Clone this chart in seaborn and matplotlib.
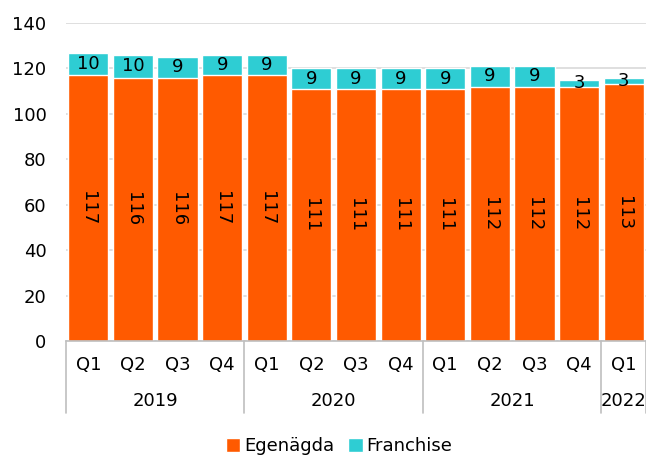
"""Stacked bar chart: Egenägda vs Franchise per quarter."""

import matplotlib

matplotlib.use("Agg")

import matplotlib.pyplot as plt
import pandas as pd
import seaborn as sns
from matplotlib.patches import Patch

QUARTERS = ["Q1", "Q2", "Q3", "Q4", "Q1", "Q2", "Q3", "Q4", "Q1", "Q2", "Q3", "Q4", "Q1"]
YEARS = ["2019", "2020", "2021", "2022"]
YEAR_SPANS = [4, 4, 4, 1]
EGENAGDA = [117, 116, 116, 117, 117, 111, 111, 111, 111, 112, 112, 112, 113]
FRANCHISE = [10, 10, 9, 9, 9, 9, 9, 9, 9, 9, 9, 3, 3]

ORANGE = "#FF5A00"
CYAN = "#2ECDD3"
FS = 13

sns.set_theme(style="white")
plt.rcParams["font.family"] = ["DejaVu Sans"]
plt.rcParams["text.color"] = "black"
plt.rcParams["xtick.color"] = "black"
plt.rcParams["ytick.color"] = "black"

df = pd.DataFrame({"pos": range(len(QUARTERS)), "egen": EGENAGDA, "fr": FRANCHISE})
df["total"] = df["egen"] + df["fr"]

fig = plt.figure(figsize=(6.46, 4.57), dpi=100)
ax = fig.add_axes([66 / 646, 1 - 341 / 457, 580 / 646, 318 / 457])

sns.barplot(data=df, x="pos", y="total", color=CYAN, width=0.9, saturation=1, ax=ax, zorder=3)
sns.barplot(data=df, x="pos", y="egen", color=ORANGE, width=0.9, saturation=1, ax=ax, zorder=3)

for i, row in df.iterrows():
    ax.text(i, row["egen"] / 2, str(row["egen"]), rotation=-90, ha="center", va="center",
            fontsize=FS, color="black", zorder=4)
    ax.text(i, row["egen"] + row["fr"] / 2, str(row["fr"]), ha="center", va="center",
            fontsize=FS, color="black", zorder=4)

ax.set_xlim(-0.5, len(QUARTERS) - 0.5)
ax.set_ylim(0, 140)
ax.set_yticks(range(0, 141, 20))
ax.tick_params(axis="y", length=0, pad=14, labelsize=FS, labelcolor="black")
ax.set_xticks(range(len(QUARTERS)))
ax.set_xticklabels(QUARTERS)
ax.tick_params(axis="x", length=0, pad=11, labelsize=FS, labelcolor="black")
ax.set_xlabel("")
ax.set_ylabel("")
ax.yaxis.grid(True, color="#DCDCDC", linewidth=1.3, zorder=0)
ax.set_axisbelow(True)
for side in ["left", "right", "top"]:
    ax.spines[side].set_visible(False)
ax.spines["bottom"].set_color("#BFBFBF")
ax.spines["bottom"].set_linewidth(1.2)
ax.spines["bottom"].set_zorder(5)

trans = ax.get_xaxis_transform()
start = -0.5
ax.plot([start, start], [0, -0.225], transform=trans, color="#BFBFBF", lw=1.2, clip_on=False)
for year, span in zip(YEARS, YEAR_SPANS):
    end = start + span
    ax.text((start + end) / 2, -0.19, year, transform=trans, ha="center", va="center",
            fontsize=FS, color="black")
    ax.plot([end, end], [0, -0.225], transform=trans, color="#BFBFBF", lw=1.2, clip_on=False)
    start = end

handles = [Patch(facecolor=ORANGE, label="Egenägda"), Patch(facecolor=CYAN, label="Franchise")]
fig.legend(handles=handles, loc="center", bbox_to_anchor=(339 / 646, 11 / 457), ncol=2,
           frameon=False, fontsize=FS, handlelength=0.8, handleheight=0.8,
           handletextpad=0.2, columnspacing=0.8)

fig.savefig("out.png", dpi=100)
